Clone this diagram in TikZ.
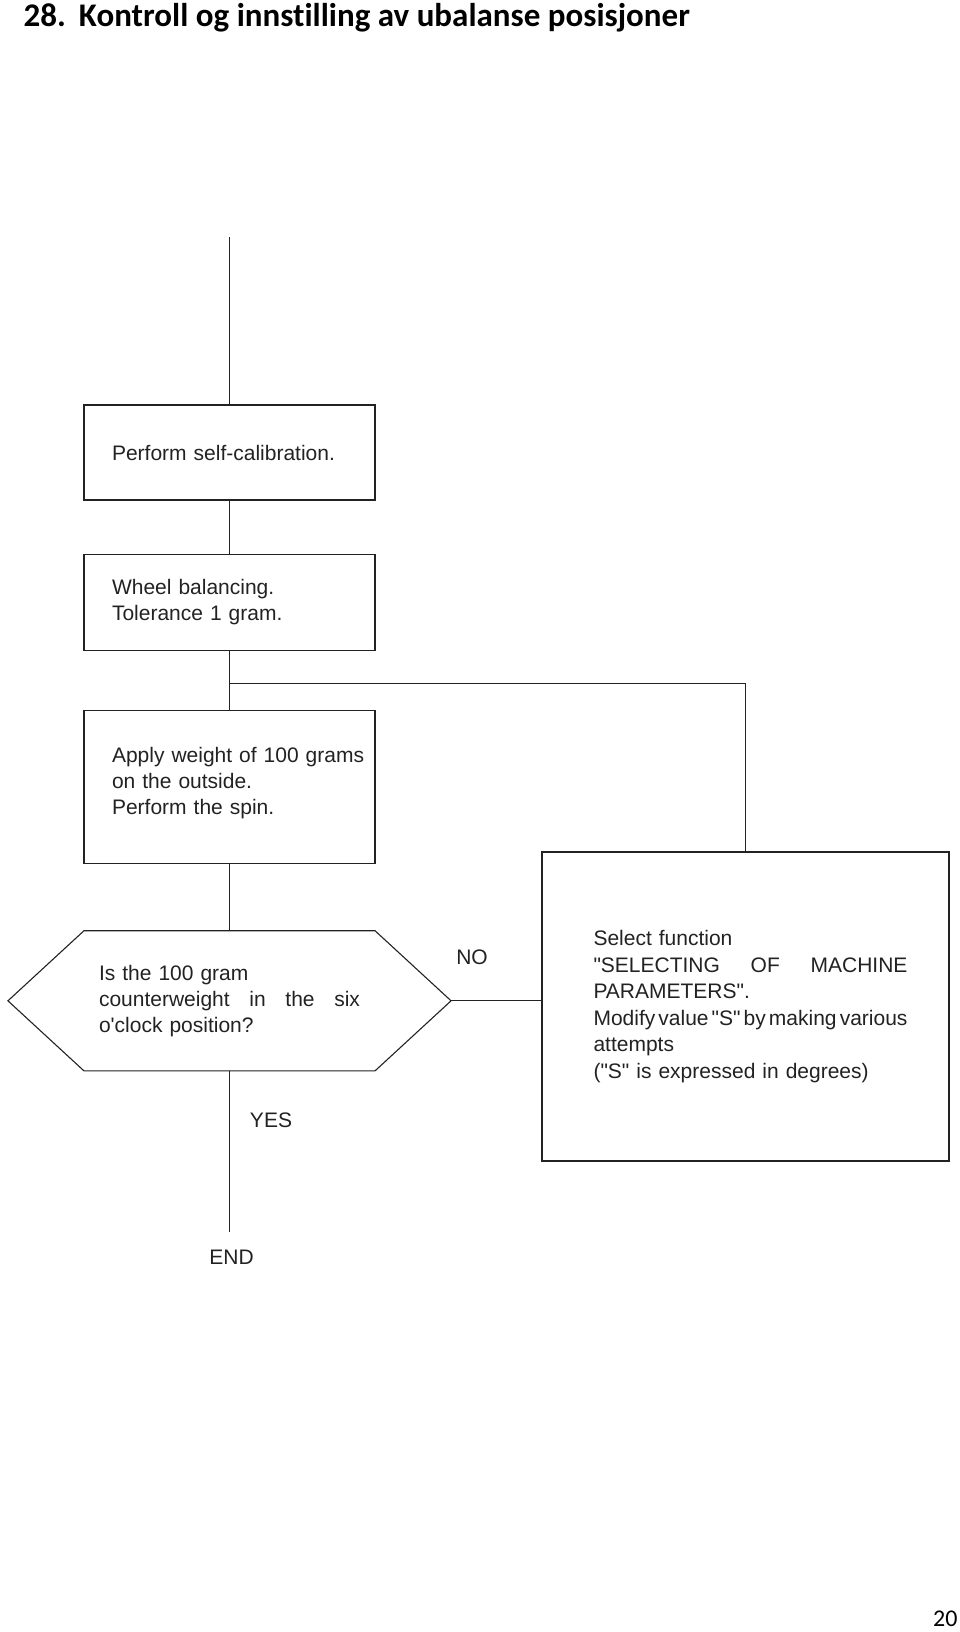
\documentclass[tikz,border=0pt]{standalone}
\usepackage{fontspec}
\newfontfamily\bodyfont{Liberation Sans}
\newfontfamily\headfont{Carlito}[Ligatures=NoCommon]
\usetikzlibrary{positioning}
\definecolor{ink}{HTML}{222222}
\newcommand{\spreadline}[1]{\leavevmode\hbox to\linewidth{#1}}

\begin{document}
\begin{tikzpicture}[
  x=1pt, y=-1pt,
  font=\bodyfont\fontsize{21}{26}\selectfont,
  color=ink, line width=1.1pt,
  box/.style={draw, minimum width=291pt, text width=235pt, inner xsep=28pt,
              inner ysep=0pt, align=left},
  lbl/.style={inner sep=0pt}
]
\useasboundingbox (0,0) rectangle (960,1632);

% heading and page number
\node[anchor=base west, inner sep=0pt, text=black,
      font=\headfont\bfseries\fontsize{33}{40}\selectfont] (title) at (23,27)
  {28.\hspace{0.4em}Kontroll og innstilling av ubalanse posisjoner};
\node[anchor=base east, inner sep=0pt, text=black,
      font=\headfont\fontsize{24}{28}\selectfont] (page) at (958,1626) {20};

% main column
\node[box, minimum height=95pt] (cal) at (229.5,452.5) {Perform self-calibration.};
\node[box, minimum height=96pt, below=53pt of cal] (bal)
  {Wheel balancing.\\ Tolerance 1 gram.};
\node[box, minimum height=153pt, below=59pt of bal] (spin)
  {\mbox{Apply weight of 100 grams}\\ on the outside.\\ Perform the spin.\par\vspace{8pt}};
\node[minimum width=290pt, minimum height=139pt, text width=261pt, inner xsep=14.5pt,
      inner ysep=0pt, align=left, below=67pt of spin] (chk)
  {Is the 100 gram\\ \spreadline{counterweight\hfill in\hfill the\hfill six}\\ o'clock position?};
\draw (chk.north west) -- (chk.north east) -- ([xshift=76pt]chk.east) coordinate (tip)
  -- (chk.south east) -- (chk.south west) -- ([xshift=-76pt]chk.west) -- cycle;

% correction box
\node[box, minimum width=407pt, minimum height=309pt, text width=314pt, inner xsep=46.5pt,
      font=\bodyfont\fontsize{21}{26.5}\selectfont] (sel) at (745.5,1006.5)
  {\leftskip=5pt Select function\\ \spreadline{"SELECTING\hfill OF\hfill MACHINE}\\ PARAMETERS".\\
   \spreadline{Modify\hfill value\hfill "S"\hfill by\hfill making\hfill various}\\
   attempts\\ ("S" is expressed in degrees)\par};

% connectors
\coordinate (start) at (229.5,237);
\draw (start) -- (cal);
\draw (cal) -- (bal);
\draw (bal) -- (spin);
\coordinate (jn) at ([yshift=-33pt]bal.south);
\draw (jn) -| (sel.north);
\draw (spin) -- (chk);
\draw (tip) -- (tip -| sel.west);
\coordinate (stop) at ([yshift=-161pt]chk.south);
\draw (chk) -- (stop);

% branch labels
\node[lbl] (no) at (472,957) {NO};
\node[lbl] (yes) at (271,1120) {YES};
\node[lbl] (end) at (231.5,1257) {END};
\end{tikzpicture}
\end{document}
